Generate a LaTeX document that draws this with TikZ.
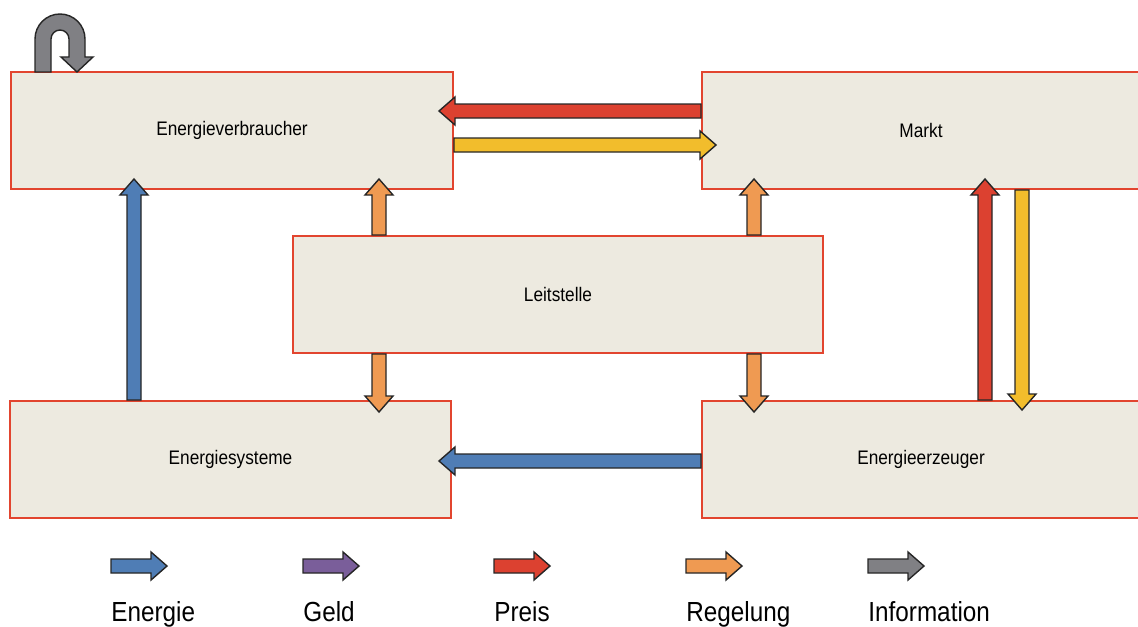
\documentclass[tikz,border=0pt]{standalone}
\usepackage{fontspec}
\setmainfont{Liberation Sans}[FakeStretch=0.88]
\usetikzlibrary{calc}

\definecolor{boxbg}{HTML}{EDEAE0}
\definecolor{boxred}{HTML}{E2452F}
\definecolor{energie}{HTML}{4F7DB5}
\definecolor{geld}{HTML}{7A5E9A}
\definecolor{preis}{HTML}{DC4130}
\definecolor{regelung}{HTML}{EF9A52}
\definecolor{info}{HTML}{808084}
\definecolor{gelb}{HTML}{F2BD2C}

% block arrow: [head half width]{colour}{from}{to}
\newcommand{\flow}[4][7pt]{%
  \coordinate (fH) at ($(#4)!8pt!(#3)$);
  \draw[flow, fill=#2] ($(#3)!3.5pt!90:(#4)$) -- ($(fH)!3.5pt!-90:(#3)$) -- ($(fH)!#1!-90:(#3)$)
    -- (#4) -- ($(fH)!#1!90:(#3)$) -- ($(fH)!3.5pt!90:(#3)$) -- ($(#3)!3.5pt!-90:(#4)$) -- cycle;}

\begin{document}
\begin{tikzpicture}[x=0.5pt, y=-0.5pt,
  box node/.style={rectangle, draw=boxred, line width=1pt, fill=boxbg, inner sep=0pt, minimum height=58.5pt, font=\fontsize{9.8}{12}\selectfont},
  flow/.style={draw=black!85, line width=0.7pt, line join=miter},
  legend text/.style={anchor=base west, inner sep=0pt, font=\fontsize{13.8}{16}\selectfont}]
	\useasboundingbox (0,0) rectangle (1138,626);
	\node[box node, minimum width=221pt] (verbr) at (232,130.5) {Energieverbraucher};
	\node[box node, minimum width=219pt] (markt) at (921,130.5) {Markt};
	\node[box node, minimum width=265pt] (leit) at (558,294.5) {Leitstelle};
	\node[box node, minimum width=220.5pt] (sys) at (230.5,459.5) {Energiesysteme};
	\node[box node, minimum width=219pt] (erz) at (921,459.5) {Energieerzeuger};

	% Markt <-> Energieverbraucher
	\coordinate (p1) at ($(markt.west)+(0,-19.5)$);
	\coordinate (p2) at ($(verbr.east)+(-15,-19.5)$);
	\flow{preis}{p1}{p2}
	\coordinate (g1) at ($(verbr.east)+(0,14.5)$);
	\coordinate (g2) at ($(markt.west)+(15,14.5)$);
	\flow{gelb}{g1}{g2}

	% Leitstelle
	\coordinate (r1) at ($(leit.north)+(-179,0)$);
	\coordinate (r2) at ($(r1 |- verbr.south)+(0,-11)$);
	\flow{regelung}{r1}{r2}
	\coordinate (r3) at ($(leit.south)+(-179,0)$);
	\coordinate (r4) at ($(r3 |- sys.north)+(0,12)$);
	\flow{regelung}{r3}{r4}
	\coordinate (r5) at ($(leit.north)+(196,0)$);
	\coordinate (r6) at ($(r5 |- markt.south)+(0,-11)$);
	\flow{regelung}{r5}{r6}
	\coordinate (r7) at ($(leit.south)+(196,0)$);
	\coordinate (r8) at ($(r7 |- erz.north)+(0,12)$);
	\flow{regelung}{r7}{r8}

	% Energie
	\coordinate (e1) at ($(sys.north)+(-96.5,0)$);
	\coordinate (e2) at ($(e1 |- verbr.south)+(0,-11)$);
	\flow{energie}{e1}{e2}
	\coordinate (e3) at ($(erz.west)+(0,1.5)$);
	\coordinate (e4) at ($(sys.east)+(-13,1.5)$);
	\flow{energie}{e3}{e4}

	% Energieerzeuger <-> Markt
	\coordinate (m1) at ($(erz.north)+(64,0)$);
	\coordinate (m2) at ($(m1 |- markt.south)+(0,-11)$);
	\flow{preis}{m1}{m2}
	\coordinate (m3) at ($(markt.south)+(101,0)$);
	\coordinate (m4) at ($(m3 |- erz.north)+(0,10)$);
	\flow{gelb}{m3}{m4}

	% Information loop
	\draw[flow, fill=info] (35,72) -- (35,39) arc[start angle=180, end angle=360, radius=25] -- (85,57) -- (93,57) -- (77,72)
		-- (61,57) -- (69,57) -- (69,39) arc[start angle=0, end angle=-180, radius=9] -- (51,72) -- cycle;

	% legend
	\foreach \x/\c/\t in {111/energie/Energie, 303/geld/Geld, 494/preis/Preis, 686/regelung/Regelung, 868/info/Information}{
		\coordinate (l1) at (\x,566);
		\coordinate (l2) at (\x+56,566);
		\flow{\c}{l1}{l2}
		\node[legend text] (t\c) at (\x,621) {\t};
	}
\end{tikzpicture}
\end{document}
